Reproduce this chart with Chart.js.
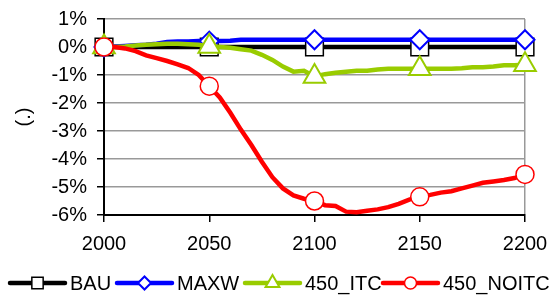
<!DOCTYPE html>
<html>
<head>
<meta charset="utf-8">
<script src="https://cdn.jsdelivr.net/npm/chart.js@4"></script>
<style>
  html, body { margin: 0; padding: 0; background: #fff; }
  canvas { display: block; }
</style>
</head>
<body>
<canvas id="chart" width="552" height="295"></canvas>
<script>
// years every 5, markers drawn only on the 50-year ticks
const years = [2000, 2005, 2010, 2015, 2020, 2025, 2030, 2035, 2040, 2045,
               2050, 2055, 2060, 2065, 2070, 2075, 2080, 2085, 2090, 2095,
               2100, 2105, 2110, 2115, 2120, 2125, 2130, 2135, 2140, 2145,
               2150, 2155, 2160, 2165, 2170, 2175, 2180, 2185, 2190, 2195, 2200];
const markerYears = [2000, 2050, 2100, 2150, 2200];

const bau = [0, 0, 0, 0, 0, 0, 0, 0, 0, 0,
             0, 0, 0, 0, 0, 0, 0, 0, 0, 0,
             0, 0, 0, 0, 0, 0, 0, 0, 0, 0,
             0, 0, 0, 0, 0, 0, 0, 0, 0, 0, 0];
const maxw = [0, 0.02, 0.04, 0.06, 0.08, 0.12, 0.18, 0.2, 0.2, 0.21,
              0.21, 0.21, 0.22, 0.26, 0.26, 0.26, 0.26, 0.26, 0.26, 0.26,
              0.26, 0.26, 0.26, 0.26, 0.26, 0.26, 0.26, 0.26, 0.26, 0.26,
              0.26, 0.26, 0.26, 0.26, 0.26, 0.26, 0.26, 0.26, 0.26, 0.26, 0.26];
const itc = [0, 0, 0.02, 0.05, 0.08, 0.1, 0.12, 0.12, 0.1, 0.08,
             0.02, 0, -0.03, -0.08, -0.13, -0.28, -0.46, -0.7, -0.88, -0.85,
             -1.05, -0.97, -0.92, -0.88, -0.85, -0.85, -0.8, -0.78, -0.78, -0.78,
             -0.78, -0.78, -0.78, -0.78, -0.76, -0.72, -0.72, -0.7, -0.65, -0.65, -0.63];
const noitc = [0, 0, -0.05, -0.15, -0.3, -0.4, -0.5, -0.62, -0.75, -1.0,
               -1.4, -1.8, -2.35, -2.95, -3.5, -4.1, -4.65, -5.05, -5.3, -5.42,
               -5.5, -5.65, -5.68, -5.88, -5.9, -5.85, -5.8, -5.72, -5.6, -5.45,
               -5.35, -5.28, -5.2, -5.15, -5.05, -4.95, -4.85, -4.8, -4.75, -4.68, -4.55];

const xTicks = [2000, 2050, 2100, 2150, 2200];
const yTicks = [1, 0, -1, -2, -3, -4, -5, -6];

const FONT = '"Liberation Sans", Arial, sans-serif';
Chart.defaults.font.family = FONT;
Chart.defaults.font.size = 20;
Chart.defaults.color = '#000';

const toPoints = arr => arr.map((v, i) => ({ x: years[i], y: v }));
const markerOnly = r => ctx => markerYears.includes(years[ctx.dataIndex]) ? r : 0;

// legend line starts, and smaller markers for the legend
const legendX = [10, 117, 245, 383];
const legendRadius = [8, 6.5, 8, 6];

function drawMarker(ctx, style, r, x, y) {
  ctx.beginPath();
  if (style === 'rect') {
    const s = r * Math.SQRT1_2;
    ctx.rect(x - s, y - s, 2 * s, 2 * s);
  } else if (style === 'rectRot') {
    ctx.moveTo(x - r, y); ctx.lineTo(x, y - r); ctx.lineTo(x + r, y); ctx.lineTo(x, y + r);
    ctx.closePath();
  } else if (style === 'triangle') {
    const w = r * Math.sin(Math.PI / 3);
    ctx.moveTo(x, y - r); ctx.lineTo(x + w, y + r / 2); ctx.lineTo(x - w, y + r / 2);
    ctx.closePath();
  } else {
    ctx.arc(x, y, r, 0, Math.PI * 2);
  }
  ctx.fill();
  ctx.stroke();
}

const bottomLegend = {
  id: 'bottomLegend',
  afterDraw(chart) {
    const ctx = chart.ctx;
    const y = 283;
    ctx.save();
    chart.data.datasets.forEach((ds, i) => {
      const x0 = legendX[i];
      ctx.strokeStyle = ds.borderColor;
      ctx.lineWidth = 4.5;
      ctx.lineCap = 'round';
      ctx.beginPath();
      ctx.moveTo(x0, y);
      ctx.lineTo(x0 + 55, y);
      ctx.stroke();
      ctx.fillStyle = '#fff';
      ctx.strokeStyle = ds.pointBorderColor;
      ctx.lineWidth = ds.pointBorderWidth;
      drawMarker(ctx, ds.pointStyle, legendRadius[i], x0 + 27.5, y);
      ctx.fillStyle = '#000';
      ctx.font = '20px ' + FONT;
      ctx.textAlign = 'left';
      ctx.textBaseline = 'middle';
      ctx.fillText(ds.label, x0 + 60, y + 1);
    });
    ctx.restore();
  }
};

const lineSet = (label, values, color, style, radius, bw, order) => ({
  label: label,
  data: toPoints(values),
  borderColor: color,
  borderWidth: 4.5,
  backgroundColor: color,
  pointStyle: style,
  pointRadius: markerOnly(radius),
  pointBorderColor: color,
  pointBackgroundColor: '#fff',
  pointBorderWidth: bw,
  tension: 0,
  clip: false,
  order: order
});

new Chart(document.getElementById('chart'), {
  type: 'line',
  data: {
    datasets: [
      lineSet('BAU', bau, '#000000', 'rect', 12.5, 1.5, 4),
      lineSet('MAXW', maxw, '#0000FF', 'rectRot', 9.5, 2, 3),
      lineSet('450_ITC', itc, '#99CC00', 'triangle', 12.5, 2, 2),
      lineSet('450_NOITC', noitc, '#FF0000', 'circle', 9, 1.5, 1)
    ]
  },
  options: {
    responsive: false,
    animation: false,
    devicePixelRatio: 1,
    layout: { padding: { top: 19, right: 27, bottom: 40, left: 0 } },
    plugins: {
      legend: { display: false },
      tooltip: { enabled: false }
    },
    scales: {
      x: {
        type: 'linear',
        min: 2000, max: 2200,
        afterBuildTicks: s => { s.ticks = xTicks.map(v => ({ value: v })); },
        afterFit: s => { s.height = 40; s.paddingLeft = 0; s.paddingRight = 0; },
        ticks: { padding: 10, autoSkip: false, callback: v => String(v) },
        grid: {
          color: c => c.tick && c.tick.value === 2200 ? '#999' : 'rgba(0,0,0,0)',
          lineWidth: 1.5,
          tickColor: '#000',
          tickLength: 7
        },
        border: { color: '#000', width: 2 }
      },
      y: {
        min: -6, max: 1,
        afterBuildTicks: s => { s.ticks = yTicks.map(v => ({ value: v })); },
        afterFit: s => { s.width = 104; s.paddingTop = 0; s.paddingBottom = 0; },
        ticks: { padding: 10, callback: v => v + '%' },
        grid: { color: '#999', lineWidth: 1.5, tickColor: '#000', tickLength: 7 },
        border: { color: '#000', width: 2 },
        title: { display: true, text: '(.)', padding: { top: 12, bottom: 0 }, font: { size: 20 } }
      }
    }
  },
  plugins: [bottomLegend]
});
</script>
</body>
</html>
